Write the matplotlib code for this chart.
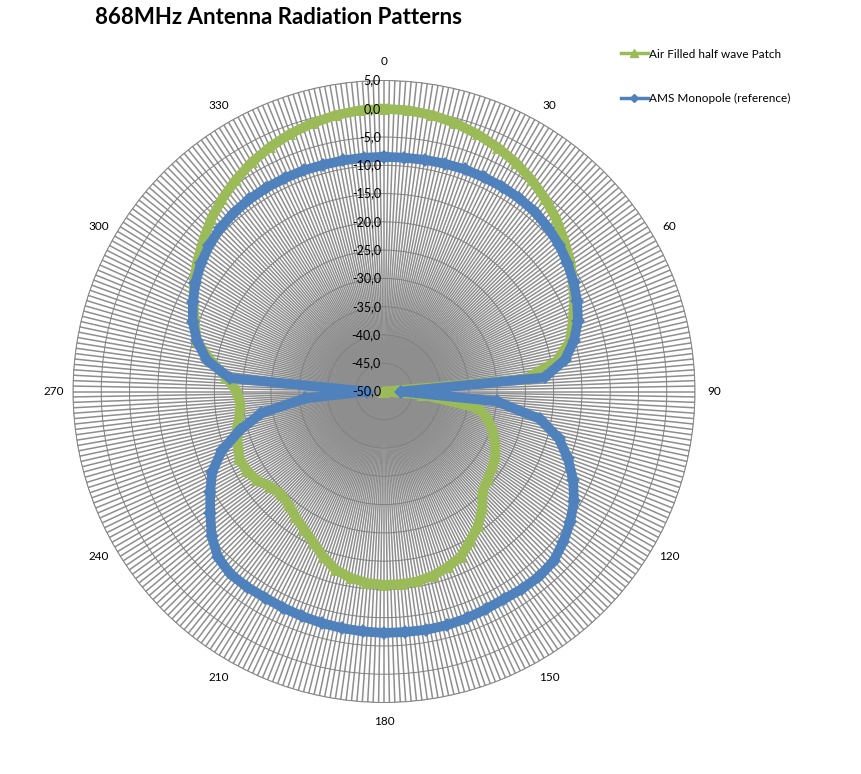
import numpy as np
import matplotlib
matplotlib.use("Agg")
import matplotlib.pyplot as plt
from matplotlib.lines import Line2D
from matplotlib.transforms import offset_copy

plt.rcParams['font.family'] = ['Lato', 'DejaVu Sans']

# angle in degrees, 5 degree steps
angles = np.arange(0, 360, 5)

# gain in dB
patch_db = [
    0.0, -0.1, -0.4, -0.9, -1.6, -2.4, -3.3, -4.4, -5.6, -6.9, -8.4, -9.8,
    -11.4, -12.9, -14.5, -16.0, -19.0, -25.0, -50.0, -43.0, -33.0, -31.0, -29.5, -28.3,
    -27.3, -26.6, -26.0, -25.3, -23.0, -21.0, -19.5, -17.8, -17.0, -16.3, -15.9, -15.8,
    -15.8, -16.0, -16.5, -17.3, -18.8, -20.5, -21.8, -22.8, -23.8, -24.3, -23.8, -22.6,
    -22.0, -21.8, -22.5, -23.0, -24.0, -24.5, -24.0, -22.0, -19.0, -15.7, -14.4, -12.8,
    -11.2, -9.7, -8.3, -6.8, -5.5, -4.3, -3.2, -2.3, -1.5, -0.9, -0.4, -0.1,
]
monopole_db = [
    -8.5, -8.5, -8.4, -8.3, -8.2, -8.2, -8.2, -8.3, -8.5, -9.0, -9.6, -10.4,
    -11.3, -12.3, -13.5, -15.2, -17.5, -21.5, -47.0, -30.0, -22.0, -18.0, -15.4, -13.1,
    -11.2, -9.8, -8.6, -7.6, -7.3, -7.4, -7.6, -7.5, -7.3, -7.2, -7.2, -7.3,
    -7.3, -7.4, -7.5, -7.6, -7.7, -7.8, -7.9, -7.8, -7.8, -8.5, -10.2, -12.5,
    -14.5, -16.5, -19.5, -23.6, -28.0, -36.0, -47.0, -22.6, -18.2, -15.8, -14.0, -12.7,
    -11.5, -10.5, -9.7, -9.1, -8.7, -8.5, -8.4, -8.4, -8.4, -8.5, -8.5, -8.5,
]
r_ticks = np.arange(-50, 10, 5)
cat_labels = [str(a) if a % 30 == 0 else '' for a in range(360)]

green = '#9BBB59'
blue = '#4F81BD'

fig = plt.figure(figsize=(8.62, 7.74), dpi=100)
ax = fig.add_axes([73 / 862, 71.5 / 774, 622 / 862, 622 / 774], projection='polar')
ax.set_theta_zero_location('N')
ax.set_theta_direction(-1)
ax.set_ylim(-50, 5)

# one spoke per degree like the Excel radar
ax.set_xticks(np.radians(np.arange(360)))
ax.set_xticklabels(cat_labels, fontsize=8.5)
ax.tick_params(axis='x', pad=3)
ax.set_yticks(r_ticks)
ax.set_yticklabels([])
ax.xaxis.grid(True, color='#8e8e8e', lw=1.1)
ax.yaxis.grid(True, color='#808080', lw=0.7)
ax.spines['polar'].set_color('#858585')
ax.spines['polar'].set_linewidth(0.7)

th = np.radians(np.append(angles, angles[0]))
ax.plot(th, patch_db + patch_db[:1], color=green, lw=7, marker='^', ms=8,
        markeredgewidth=0, zorder=3)
ax.plot(th, monopole_db + monopole_db[:1], color=blue, lw=7, marker='D', ms=7,
        markeredgewidth=0, zorder=4)

tr = offset_copy(ax.transData, fig=fig, x=-3, y=0, units='dots')
for v in r_ticks:
    ax.text(0, v, f"{v:.1f}".replace('.', ','), transform=tr, ha='right',
            va='center', fontsize=9, zorder=5)

fig.text(95 / 862, 1 - 17 / 774, '868MHz Antenna Radiation Patterns',
         fontsize=16, fontweight='bold', va='center')

handles = [Line2D([], [], color=green, lw=2.5, marker='^', ms=6),
           Line2D([], [], color=blue, lw=2.5, marker='D', ms=4)]
fig.legend(handles, ['Air Filled half wave Patch', 'AMS Monopole (reference)'],
           loc='upper left', bbox_to_anchor=(610 / 862, 1 - 38 / 774), frameon=False,
           fontsize=8.5, handlelength=2.3, handletextpad=0.1, labelspacing=2.8)

fig.savefig('out.png', dpi=100)
